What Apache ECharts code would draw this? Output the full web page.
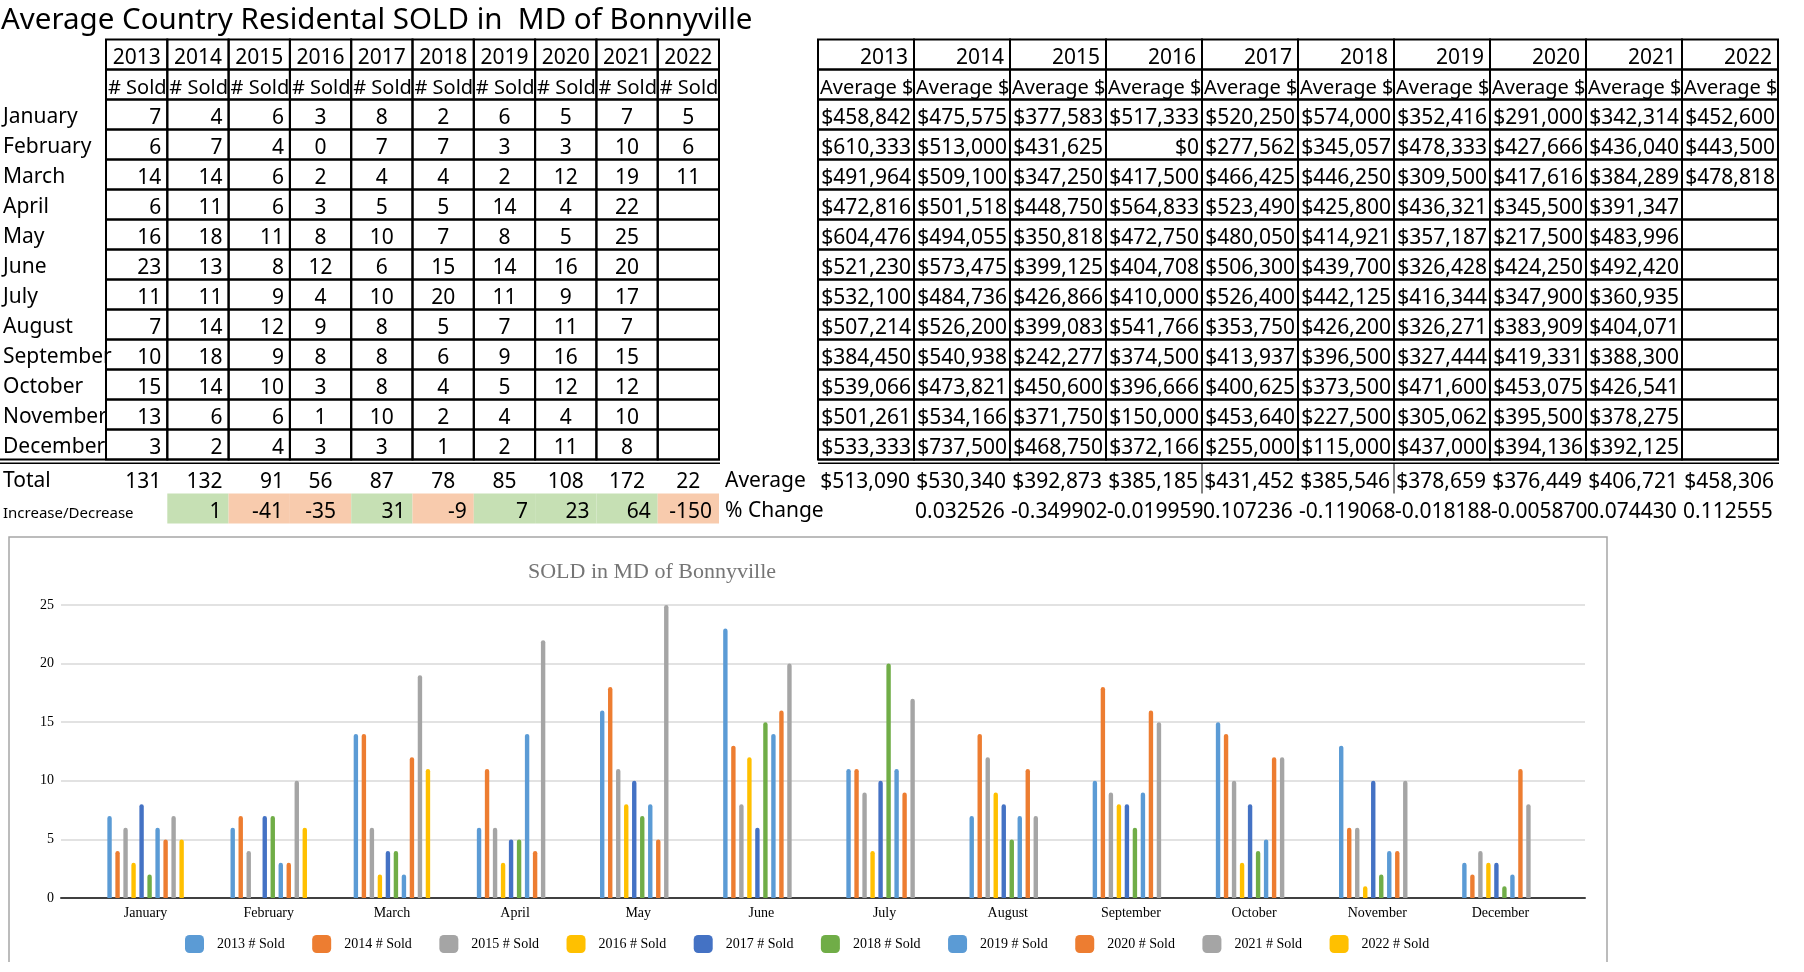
<!DOCTYPE html>
<html><head><meta charset="utf-8">
<script src="https://cdn.jsdelivr.net/npm/echarts@6/dist/echarts.min.js"></script>
<style>html,body{margin:0;padding:0;background:#fff}#c{width:1804px;height:972px}</style>
</head><body><div id="c"></div>
<script>
// ---------- DATA ----------
const years = ['2013','2014','2015','2016','2017','2018','2019','2020','2021','2022'];
const months = ['January','February','March','April','May','June','July','August','September','October','November','December'];

const sold2013 = [7,6,14,6,16,23,11,7,10,15,13,3];
const sold2014 = [4,7,14,11,18,13,11,14,18,14,6,2];
const sold2015 = [6,4,6,6,11,8,9,12,9,10,6,4];
const sold2016 = [3,0,2,3,8,12,4,9,8,3,1,3];
const sold2017 = [8,7,4,5,10,6,10,8,8,8,10,3];
const sold2018 = [2,7,4,5,7,15,20,5,6,4,2,1];
const sold2019 = [6,3,2,14,8,14,11,7,9,5,4,2];
const sold2020 = [5,3,12,4,5,16,9,11,16,12,4,11];
const sold2021 = [7,10,19,22,25,20,17,7,15,12,10,8];
const sold2022 = [5,6,11,null,null,null,null,null,null,null,null,null];

const avg2013 = [458842,610333,491964,472816,604476,521230,532100,507214,384450,539066,501261,533333];
const avg2014 = [475575,513000,509100,501518,494055,573475,484736,526200,540938,473821,534166,737500];
const avg2015 = [377583,431625,347250,448750,350818,399125,426866,399083,242277,450600,371750,468750];
const avg2016 = [517333,0,417500,564833,472750,404708,410000,541766,374500,396666,150000,372166];
const avg2017 = [520250,277562,466425,523490,480050,506300,526400,353750,413937,400625,453640,255000];
const avg2018 = [574000,345057,446250,425800,414921,439700,442125,426200,396500,373500,227500,115000];
const avg2019 = [352416,478333,309500,436321,357187,326428,416344,326271,327444,471600,305062,437000];
const avg2020 = [291000,427666,417616,345500,217500,424250,347900,383909,419331,453075,395500,394136];
const avg2021 = [342314,436040,384289,391347,483996,492420,360935,404071,388300,426541,378275,392125];
const avg2022 = [452600,443500,478818,null,null,null,null,null,null,null,null,null];

const totalSold = [131,132,91,56,87,78,85,108,172,22];
const soldChange = [null,1,-41,-35,31,-9,7,23,64,-150];
const yearAverage = [513090,530340,392873,385185,431452,385546,378659,376449,406721,458306];
const pctChange = [null,'0.0325261','-0.3499022','-0.0199592','0.1072360','-0.1190680','-0.0181883','-0.0058706','0.0744300','0.1125556'];
const yTicks = [0,5,10,15,20,25];

const soldByYear = [sold2013,sold2014,sold2015,sold2016,sold2017,sold2018,sold2019,sold2020,sold2021,sold2022];
const avgByYear = [avg2013,avg2014,avg2015,avg2016,avg2017,avg2018,avg2019,avg2020,avg2021,avg2022];

// ---------- STYLE ----------
const colors = ['#5B9BD5','#ED7D31','#A5A5A5','#FFC000','#4472C4','#70AD47','#5B9BD5','#ED7D31','#A5A5A5','#FFC000'];
const SANS = 'Noto Sans';
const SERIF = 'Liberation Serif';
const GREEN = '#C6E0B4', SALMON = '#F8CBAD';
const TEXT_DY = 4;

function money(v){
  if (v == null) return '';
  const s = String(Math.round(v));
  return '$' + s.replace(/\B(?=(\d{3})+(?!\d))/g, ',');
}

// ---------- CELL BUILDERS ----------
const rowKeys = ['h','s'].concat(months);
const leftCells = [], rightCells = [], leftTot = [], rightTot = [];
for (let r = 0; r < 14; r++) {
  for (let c = 0; c < 10; c++) {
    let t, al, pad = 0, fs = 21;
    if (r === 0) { t = years[c]; al = 'center'; }
    else if (r === 1) { t = '# Sold'; al = 'left'; pad = 2; fs = 20; }
    else { const v = soldByYear[c][r-2]; t = v == null ? '' : String(v); al = c <= 2 ? 'right' : 'center'; pad = 6; }
    leftCells.push({value:[c, r], t, al, pad, border:true, fs, wExtra: 4});
    let t2, al2, pad2 = 0, fs2 = 21;
    if (r === 0) { t2 = years[c]; al2 = 'right'; pad2 = 6; }
    else if (r === 1) { t2 = 'Average $'; al2 = 'left'; pad2 = 2; fs2 = 20; }
    else { t2 = money(avgByYear[c][r-2]); al2 = 'right'; pad2 = 3; }
    rightCells.push({value:[c, r], t:t2, al:al2, pad:pad2, border:true, fs:fs2, wExtra: 6});
  }
}
for (let c = 0; c < 10; c++) {
  leftTot.push({value:[c,0], t:String(totalSold[c]), al: c <= 2 ? 'right' : 'center', pad:6, fs:21, wExtra:8});
  const ch = soldChange[c];
  leftTot.push({value:[c,1], t: ch == null ? '' : String(ch), al: c === 3 ? 'center' : 'right', pad:7, fs:21,
    fill: ch == null ? null : (ch >= 0 ? GREEN : SALMON), wExtra:8});
  rightTot.push({value:[c,0], t: money(yearAverage[c]), al:'right', pad:4, fs:21, wExtra:8, vline: (c === 4 || c === 6)});
  rightTot.push({value:[c,1], t: pctChange[c] == null ? '' : pctChange[c], al:'left', pad:1, fs:21, wExtra:5});
}

function cellRenderer(cells){
  return function(params, api){
    const d = cells[params.dataIndex];
    const p = api.coord([api.value(0), api.value(1)]);
    const s = api.size([1, 1]);
    const x0 = p[0] - s[0]/2, y0 = p[1] - s[1]/2;
    const ch = [];
    if (d.fill) ch.push({type:'rect', shape:{x:x0, y:y0, width:s[0], height:s[1]}, style:{fill:d.fill}});
    if (d.t !== '') {
      const tx = d.al === 'left' ? x0 + d.pad : (d.al === 'right' ? x0 + s[0] - d.pad : x0 + s[0]/2);
      ch.push({type:'text', style:{text:d.t, x:tx, y:p[1] + TEXT_DY, align:d.al, verticalAlign:'middle',
        fontFamily:SANS, fontSize:d.fs, fill:'#000', width: s[0] - d.pad + d.wExtra, overflow:'truncate', ellipsis:''}});
    }
    if (d.border) ch.push({type:'rect', shape:{x:x0, y:y0, width:s[0], height:s[1]}, style:{fill:null, stroke:'#000', lineWidth:2}});
    if (d.vline) ch.push({type:'line', shape:{x1:x0, y1:y0, x2:x0, y2:y0 + s[1]}, style:{stroke:'#000', lineWidth:1}});
    return {type:'group', children:ch};
  };
}

function tableSeries(cells, gi){
  return {type:'custom', coordinateSystem:'cartesian2d', xAxisIndex:gi, yAxisIndex:gi,
    renderItem: cellRenderer(cells), data: cells.map(d => d.value), encode:{x:0, y:1}, silent:true, clip:false, z:5};
}

const hiddenCatX = (gi) => ({gridIndex:gi, type:'category', data:years, show:false});

const barSeries = years.map((y, i) => ({
  type:'bar', name: y + ' # Sold', xAxisIndex:4, yAxisIndex:4, data: soldByYear[i],
  barWidth:4.4, barGap:'82%', itemStyle:{color:colors[i], borderRadius:[2.2,2.2,0,0]}, silent:true
}));

const richLabel = {a:{fontFamily:SANS, fontSize:21, color:'#000', padding:[6,0,0,0]}, b:{fontFamily:SANS, fontSize:15, color:'#000', padding:[10,0,0,0]}};

const chart = echarts.init(document.getElementById('c'), null, {renderer:'canvas'});
chart.setOption({
  animation:false,
  backgroundColor:'#fff',
  textStyle:{fontFamily:SANS},
  graphic:[
    {type:'text', x:1, y:21, style:{text:'Average Country Residental SOLD in  MD of Bonnyville', fontFamily:SANS, fontSize:29.5, fill:'#000', verticalAlign:'middle'}},
    {type:'line', shape:{x1:0, y1:459.5, x2:720, y2:459.5}, style:{stroke:'#000', lineWidth:2}},
    {type:'line', shape:{x1:0, y1:463.2, x2:720, y2:463.2}, style:{stroke:'#000', lineWidth:1.5}},
    {type:'line', shape:{x1:818, y1:459.5, x2:1779, y2:459.5}, style:{stroke:'#000', lineWidth:2}},
    {type:'line', shape:{x1:818, y1:463.2, x2:1779, y2:463.2}, style:{stroke:'#000', lineWidth:1.5}},
    {type:'polyline', shape:{points:[[9,962],[9,537],[1607,537],[1607,962]]}, style:{fill:null, stroke:'#a6a6a6', lineWidth:1.5}},
    {type:'text', x:652, y:572, style:{text:'SOLD in MD of Bonnyville', fontFamily:SERIF, fontSize:22, fill:'#757575', align:'center', verticalAlign:'middle'}}
  ],
  grid:[
    {left:106, top:39.5, width:613, height:420},
    {left:106, top:463.5, width:613, height:60},
    {left:818, top:39.5, width:960, height:420},
    {left:818, top:463.5, width:960, height:60},
    {left:84, top:605, width:1478, height:293},
    {left:61, top:605, width:1524, height:293}
  ],
  xAxis:[
    hiddenCatX(0), hiddenCatX(1), hiddenCatX(2), hiddenCatX(3),
    {gridIndex:4, type:'category', data:months, axisLine:{show:false}, axisTick:{show:false}, splitLine:{show:false},
      axisLabel:{interval:0, margin:8, fontFamily:SERIF, fontSize:14, color:'#000'}},
    {gridIndex:5, type:'value', min:0, max:1, axisLine:{show:true, onZero:false, lineStyle:{color:'#404040', width:2}},
      axisTick:{show:false}, axisLabel:{show:false}, splitLine:{show:false}}
  ],
  yAxis:[
    {gridIndex:0, type:'category', inverse:true, data:['',''].concat(months), axisLine:{show:false}, axisTick:{show:false}, splitLine:{show:false},
      axisLabel:{interval:0, align:'left', margin:103, color:'#000',
        formatter:(v) => v === '' ? '' : '{a|' + v + '}', rich:richLabel}},
    {gridIndex:1, type:'category', inverse:true, data:['Total','Increase/Decrease'], axisLine:{show:false}, axisTick:{show:false}, splitLine:{show:false},
      axisLabel:{interval:0, align:'left', margin:103, color:'#000',
        formatter:(v, i) => i === 0 ? '{a|' + v + '}' : '{b|' + v + '}', rich:richLabel}},
    {gridIndex:2, type:'category', inverse:true, data:rowKeys, show:false},
    {gridIndex:3, type:'category', inverse:true, data:['Average','% Change'], axisLine:{show:false}, axisTick:{show:false}, splitLine:{show:false},
      axisLabel:{interval:0, align:'left', margin:93, color:'#000',
        formatter:(v) => '{a|' + v + '}', rich:richLabel}},
    {gridIndex:4, type:'value', min:yTicks[0], max:yTicks[yTicks.length-1], interval:yTicks[1]-yTicks[0], show:false},
    {gridIndex:5, type:'value', min:yTicks[0], max:yTicks[yTicks.length-1], interval:yTicks[1]-yTicks[0],
      axisLine:{show:false}, axisTick:{show:false},
      axisLabel:{margin:7, fontFamily:SERIF, fontSize:14, color:'#000'},
      splitLine:{show:true, lineStyle:{color:'#d9d9d9', width:1.5}}}
  ],
  legend:{data: barSeries.map(s => s.name), left:185, top:935, padding:0, itemWidth:19, itemHeight:18, itemGap:27.5,
    icon:'roundRect', selectedMode:false,
    textStyle:{fontFamily:SERIF, fontSize:14, color:'#000', padding:[0,0,0,8]}},
  series:[
    tableSeries(leftCells, 0), tableSeries(leftTot, 1), tableSeries(rightCells, 2), tableSeries(rightTot, 3)
  ].concat(barSeries)
});
</script></body></html>
